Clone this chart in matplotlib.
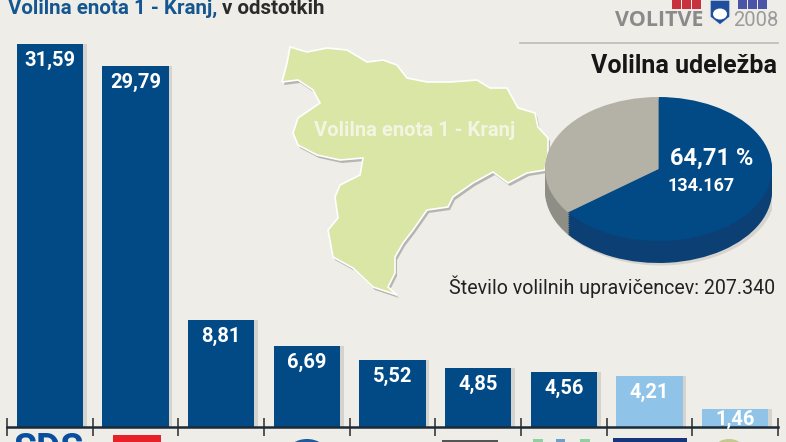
import matplotlib
matplotlib.use('Agg')
import matplotlib.pyplot as plt
from matplotlib.patches import Polygon, Rectangle, Ellipse

# podatki
rezultati = [31.59, 29.79, 8.81, 6.69, 5.52, 4.85, 4.56, 4.21, 1.46]
oznake = ['31,59', '29,79', '8,81', '6,69', '5,52', '4,85', '4,56', '4,21', '1,46']
pod_pragom = [False, False, False, False, False, False, False, True, True]
udelezba = [64.71, 35.29]

TEMNO_MODRA = '#014a86'
SVETLO_MODRA = '#8fc4e8'
OZADJE = '#efede8'
ZELENA = '#d9e6a6'
PISAVA = ['Roboto', 'DejaVu Sans']

# obris volilne enote, v pikslih slike
obris = [(290, 47), (307, 52), (327, 48), (347, 50), (367, 62), (383, 60), (397, 65), (407, 78),
         (427, 82), (450, 82), (477, 80), (490, 88), (507, 88), (518, 108), (535, 113), (538, 127),
         (548, 138), (548, 153), (545, 170), (527, 173), (508, 183), (493, 172), (473, 183), (453, 197),
         (448, 207), (427, 210), (413, 230), (403, 243), (395, 257), (395, 273), (388, 287), (397, 295),
         (373, 287), (353, 268), (333, 257), (328, 230), (338, 218), (335, 197), (340, 185), (360, 175),
         (363, 158), (340, 160), (317, 155), (298, 145), (293, 133), (298, 118), (320, 103), (313, 90),
         (298, 80), (282, 82), (287, 63)]

fig = plt.figure(figsize=(7.86, 4.42), dpi=100, facecolor=OZADJE)

# stolpci
ax = fig.add_axes([7 / 786, 15 / 442, 771 / 786, 427 / 442], facecolor='none')
x = list(range(len(rezultati)))
barve = [SVETLO_MODRA if p else TEMNO_MODRA for p in pod_pragom]
ax.bar([i + 0.045 for i in x], rezultati, width=0.77, color='#c4c2bb', alpha=0.6, zorder=1)
ax.bar(x, rezultati, width=0.775, color=barve, zorder=2)
ax.set_xlim(-0.5, 8.5)
ax.set_ylim(0, 427 / 12.12)
ax.set_xticks([i - 0.5 for i in range(10)])
ax.set_xticklabels([])
ax.set_yticks([])
ax.tick_params(axis='x', direction='inout', length=13, width=1.1, color='#2a2a2a')
for s in ['top', 'left', 'right']:
    ax.spines[s].set_visible(False)
ax.spines['bottom'].set_linewidth(1.8)
ax.spines['bottom'].set_color('#1c2a38')
ax.spines['bottom'].set_zorder(5)

for i, v in enumerate(rezultati):
    zamik = -7 if v < 2 else -12
    ax.annotate(oznake[i], xy=(i, v), xytext=(0, zamik), textcoords='offset points',
                ha='center', va='center', color='white', fontsize=14.5, fontweight='bold',
                family=PISAVA, zorder=6)

# okras v pikslih
deco = fig.add_axes([0, 0, 1, 1], facecolor='none')
deco.set_xlim(0, 786)
deco.set_ylim(442, 0)
deco.axis('off')

deco.text(8, 8, 'Volilna enota 1 - Kranj,', color='#14568f', fontsize=14.8, fontweight='bold',
          family=PISAVA, ha='left', va='center')
deco.text(222, 8, 'v odstotkih', color='#2b2b2b', fontsize=14.8, fontweight='bold',
          family=PISAVA, ha='left', va='center')

# zemljevid
deco.add_patch(Polygon([(a + 2, b + 3) for a, b in obris], closed=True, color='#a9a8a4', lw=0, alpha=0.8))
deco.add_patch(Polygon(obris, closed=True, facecolor=ZELENA, edgecolor='white', lw=1.2))
deco.text(415, 131, 'Volilna enota 1 - Kranj', color='#f3f4e2', fontsize=14.6, fontweight='bold',
          family=PISAVA, ha='center', va='center')

# glava desno
deco.plot([520, 778], [43, 43], color='#bdbcb2', lw=1.2)
deco.text(777, 66, 'Volilna udeležba', color='#161616', fontsize=18, fontweight='bold',
          family=PISAVA, ha='right', va='center')
deco.text(615, 21, 'VOLITVE', color='#8a8a8a', fontsize=15.5, fontweight='bold', family=['Open Sans'],
          ha='left', va='center')
deco.text(733, 21, '2008', color='#9a9a9a', fontsize=14.5, family=PISAVA, ha='left', va='center')
for k in range(3):
    deco.add_patch(Rectangle((672 + k * 10, 0), 9, 9, color='#c8323c', lw=0))
    deco.add_patch(Rectangle((738 + k * 10, 0), 9, 9, color='#4a55a8', lw=0))
deco.add_patch(Polygon([(710, 0), (730, 0), (730, 17), (720, 25), (710, 17)], closed=True,
                       facecolor='#1f4f9c', edgecolor='#e8e8e8', lw=1))
deco.add_patch(Ellipse((720, 14), 14, 11, color='white', lw=0))

deco.text(449, 287, 'Število volilnih upravičencev: 207.340', color='#222222', fontsize=14.1,
          family=PISAVA, ha='left', va='center')

# logotipi pod osjo
deco.text(49, 461, 'SDS', color='#0a4f9e', fontsize=27, fontweight='bold', family=PISAVA,
          ha='center', va='baseline', clip_on=True)
deco.add_patch(Rectangle((113, 435), 48, 8, color='#e8202a', lw=0))
deco.add_patch(Ellipse((307, 452), 38, 26, color='#1a5c9e', lw=0))
deco.add_patch(Rectangle((442, 440), 56, 3, color='#555555', lw=0))
for a, b, c in [(533, 10, '#8fd0a0'), (556, 9, '#6f9fc8'), (580, 10, '#8fd0a0')]:
    deco.add_patch(Rectangle((a, 439), b, 4, color=c, lw=0))
deco.add_patch(Rectangle((613, 438), 74, 5, color='#17357a', lw=0))
deco.add_patch(Ellipse((729, 448), 28, 18, color='#c6c98c', lw=0))

# pita
pita = fig.add_axes([545 / 786, (442 - 266) / 442, 227 / 786, 169 / 442], facecolor='none')
pita.add_patch(Ellipse((0.02, -0.33), 2.02, 2.02, color='#8e8d88', alpha=0.25, lw=0))
globina = 22 / 72
for k in range(12, 0, -1):
    pita.pie(udelezba, colors=['#0c3f73', '#8f8e86'], startangle=90, counterclock=False,
             center=(0, -globina * k / 12), radius=1)
pita.pie(udelezba, colors=[TEMNO_MODRA, '#b4b2a7'], startangle=90, counterclock=False,
         center=(0, 0), radius=1)
pita.set_aspect('auto')
pita.set_xlim(-1, 1)
pita.set_ylim(1 - 169 / 72, 1)
pita.axis('off')

deco2 = fig.add_axes([0, 0, 1, 1], facecolor='none')
deco2.set_xlim(0, 786)
deco2.set_ylim(442, 0)
deco2.axis('off')
deco2.text(712, 158, '64,71 %', color='white', fontsize=17, fontweight='bold', family=PISAVA,
           ha='center', va='center')
deco2.text(701, 186, '134.167', color='white', fontsize=13, fontweight='bold', family=PISAVA,
           ha='center', va='center')

fig.savefig('out.png', dpi=100, facecolor=fig.get_facecolor())
